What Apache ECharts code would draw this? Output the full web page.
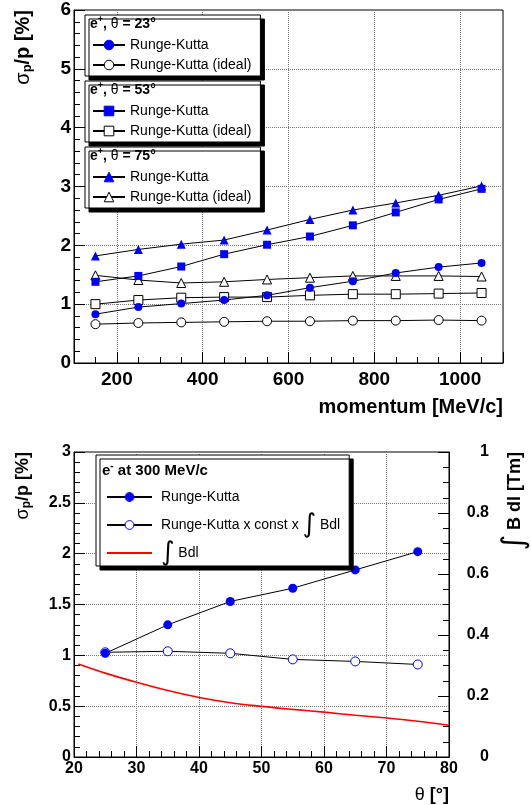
<!DOCTYPE html>
<html><head><meta charset="utf-8">
<script src="https://cdn.jsdelivr.net/npm/echarts@6/dist/echarts.min.js"></script>
<style>html,body{margin:0;padding:0;background:#fff;overflow:hidden}#c{width:531px;height:805px}</style>
</head><body><div id="c"></div>
<script>
// ---------- data: top panel (sigma_p/p vs momentum) ----------
const momentum = [150, 250, 350, 450, 550, 650, 750, 850, 950, 1050];
const rk23      = [0.83, 0.95, 1.01, 1.07, 1.15, 1.28, 1.39, 1.53, 1.63, 1.70];
const rk23Ideal = [0.66, 0.68, 0.69, 0.70, 0.71, 0.71, 0.72, 0.72, 0.73, 0.72];
const rk53      = [1.38, 1.48, 1.64, 1.85, 2.01, 2.15, 2.34, 2.56, 2.78, 2.96];
const rk53Ideal = [1.00, 1.07, 1.11, 1.12, 1.12, 1.15, 1.17, 1.17, 1.18, 1.19];
const rk75      = [1.82, 1.93, 2.02, 2.09, 2.26, 2.44, 2.60, 2.72, 2.85, 3.01];
const rk75Ideal = [1.49, 1.41, 1.36, 1.38, 1.42, 1.45, 1.48, 1.48, 1.48, 1.47];
const topXTickLabels = [200, 400, 600, 800, 1000];

// ---------- data: bottom panel (e- at 300 MeV/c vs theta) ----------
const theta       = [25, 35, 45, 55, 65, 75];
const rkTheta     = [1.02, 1.30, 1.53, 1.66, 1.84, 2.02];
const rkConstBdl  = [1.03, 1.04, 1.02, 0.96, 0.94, 0.91];
const bdlTheta    = [20.7, 25, 30, 35, 40, 45, 50, 55, 60, 65, 70, 75, 80];
const bdlValues   = [0.305, 0.275, 0.245, 0.218, 0.195, 0.178, 0.166, 0.156, 0.147, 0.137, 0.128, 0.117, 0.104];

const legendLabels = {
  rk23: 'Runge-Kutta', rk23i: 'Runge-Kutta (ideal)',
  rk53: 'Runge-Kutta', rk53i: 'Runge-Kutta (ideal)',
  rk75: 'Runge-Kutta', rk75i: 'Runge-Kutta (ideal)',
  rk: ' Runge-Kutta', rkc: ' Runge-Kutta x const x {i|∫} Bdl', bdl: ' {i|∫} Bdl'
};

const FONT = 'Liberation Sans';
const BLUE = '#0000ff';
const pairs = (xs, ys) => xs.map((x, i) => [x, ys[i]]);

function lineSeries(name, xs, ys, symbol, size, filled, xi, yi, edge) {
  return {
    name, type: 'line', xAxisIndex: xi, yAxisIndex: yi, data: pairs(xs, ys),
    symbol, symbolSize: size, showSymbol: true,
    lineStyle: { color: '#000', width: 1 },
    itemStyle: filled ? { color: BLUE, borderColor: BLUE, borderWidth: 0 }
                      : { color: '#fff', borderColor: edge || '#000', borderWidth: 1 },
    emphasis: { disabled: true }, animation: false
  };
}

const axisFont = (size) => ({ fontFamily: FONT, fontWeight: 'bold', fontSize: size, color: '#000' });
const dotted = { show: true, showMinLine: false, showMaxLine: false, lineStyle: { color: '#777', type: 'dotted', width: 1 } };

function topLegend(names, top) {
  return {
    orient: 'vertical', left: 85, top, data: names, selectedMode: false,
    backgroundColor: '#fff', borderColor: '#000', borderWidth: 1,
    shadowColor: '#000', shadowBlur: 0, shadowOffsetX: 4, shadowOffsetY: 4,
    padding: [22, 9, 3, 7], itemGap: 4, itemWidth: 32, itemHeight: 12,
    itemStyle: { borderWidth: 1 },
    textStyle: { fontFamily: FONT, fontSize: 14, color: '#000', lineHeight: 16 },
    formatter: n => legendLabels[n]
  };
}

function header(x, y, sign, rest, size) {
  return {
    type: 'text', x, y, z: 100,
    style: {
      text: '{b|e}{sup|' + sign + '}' + rest,
      fontFamily: FONT, fontWeight: 'bold', fontSize: size, fill: '#000',
      align: 'left', verticalAlign: 'middle',
      rich: {
        b: { fontFamily: FONT, fontWeight: 'bold', fontSize: size, fill: '#000' },
        sup: { fontFamily: FONT, fontWeight: 'bold', fontSize: Math.round(size * 0.65), fill: '#000', padding: [0, 0, 9, 0] },
        t: { fontFamily: FONT, fontWeight: 'normal', fontSize: size, fill: '#000' }
      }
    }
  };
}

const option = {
  backgroundColor: '#fff',
  animation: false,
  grid: [
    { left: 74, right: 28, top: 10, bottom: 442, show: true, borderColor: '#000', borderWidth: 1, containLabel: false, outerBoundsMode: 'none' },
    { left: 74, right: 82, top: 452, bottom: 48, show: true, borderColor: '#000', borderWidth: 1, containLabel: false, outerBoundsMode: 'none' }
  ],
  xAxis: [
    { gridIndex: 0, type: 'value', position: 'bottom', min: 100, max: 1100, splitNumber: 5,
      axisLine: { show: true, onZero: false, lineStyle: { color: '#000', width: 1 } },
      axisTick: { show: true, inside: true, length: 11, lineStyle: { color: '#000' } },
      axisLabel: Object.assign({ margin: 7, formatter: v => topXTickLabels.includes(v) ? String(v) : '' }, axisFont(19)),
      splitLine: dotted },
    { gridIndex: 0, type: 'value', position: 'bottom', min: 100, max: 1100, interval: 50,
      axisLine: { show: false }, axisLabel: { show: false }, splitLine: { show: false },
      axisTick: { show: true, inside: true, length: 6, lineStyle: { color: '#000' } } },
    { gridIndex: 1, type: 'value', position: 'bottom', min: 20, max: 80, interval: 10,
      axisLine: { show: true, onZero: false, lineStyle: { color: '#000', width: 1 } },
      axisTick: { show: true, inside: true, length: 11, lineStyle: { color: '#000' } },
      minorTick: { show: true, splitNumber: 5, length: 6, lineStyle: { color: '#000' } },
      axisLabel: Object.assign({ margin: 4 }, axisFont(16)),
      splitLine: dotted }
  ],
  yAxis: [
    { gridIndex: 0, type: 'value', min: 0, max: 6, interval: 1,
      axisLine: { show: true, onZero: false, lineStyle: { color: '#000', width: 1 } },
      axisTick: { show: true, inside: true, length: 11, lineStyle: { color: '#000' } },
      minorTick: { show: true, splitNumber: 5, length: 6, lineStyle: { color: '#000' } },
      axisLabel: Object.assign({ margin: 3 }, axisFont(19)),
      splitLine: dotted },
    { gridIndex: 1, type: 'value', min: 0, max: 3, interval: 0.5,
      axisLine: { show: true, onZero: false, lineStyle: { color: '#000', width: 1 } },
      axisTick: { show: true, inside: true, length: 11, lineStyle: { color: '#000' } },
      minorTick: { show: true, splitNumber: 5, length: 6, lineStyle: { color: '#000' } },
      axisLabel: Object.assign({ margin: 3 }, axisFont(16)),
      splitLine: dotted },
    { gridIndex: 1, type: 'value', position: 'right', min: 0, max: 1, interval: 0.2,
      axisLine: { show: true, onZero: false, lineStyle: { color: '#000', width: 1 } },
      axisTick: { show: true, inside: true, length: 11, lineStyle: { color: '#000' } },
      minorTick: { show: true, splitNumber: 4, length: 6, lineStyle: { color: '#000' } },
      axisLabel: Object.assign({ margin: 40, align: 'right' }, axisFont(16)),
      splitLine: { show: false } }
  ],
  legend: [
    topLegend(['rk23', 'rk23i'], 15),
    topLegend(['rk53', 'rk53i'], 81),
    topLegend(['rk75', 'rk75i'], 147),
    {
      orient: 'vertical', left: 96, top: 455, data: ['rk', 'rkc', 'bdl'], selectedMode: false,
      backgroundColor: '#fff', borderColor: '#000', borderWidth: 1,
      shadowColor: '#000', shadowBlur: 0, shadowOffsetX: 4, shadowOffsetY: 4,
      padding: [29, 9, 0, 10], itemGap: 2, itemWidth: 45, itemHeight: 11,
      itemStyle: { borderWidth: 1 },
      textStyle: { fontFamily: FONT, fontSize: 14, color: '#000', lineHeight: 26,
        rich: { i: { fontFamily: 'DejaVu Sans', fontSize: 26, lineHeight: 26, color: '#000' } } },
      formatter: n => legendLabels[n]
    }
  ],
  graphic: [
    { type: 'text', x: 23, y: 10, rotation: Math.PI / 2, z: 100,
      style: { text: '{s|σ}{sub|p}/p [%]', fontFamily: FONT, fontWeight: 'bold', fontSize: 20, fill: '#000', align: 'right', verticalAlign: 'middle',
        rich: { s: { fontFamily: FONT, fontWeight: 'normal', fontSize: 20, fill: '#000' },
                sub: { fontFamily: FONT, fontWeight: 'bold', fontSize: 13, fill: '#000', padding: [8, 0, 0, 0] } } } },
    { type: 'text', x: 503, y: 407, z: 100,
      style: { text: 'momentum [MeV/c]', fontFamily: FONT, fontWeight: 'bold', fontSize: 20, fill: '#000', align: 'right', verticalAlign: 'middle' } },
    { type: 'text', x: 23, y: 452, rotation: Math.PI / 2, z: 100,
      style: { text: '{s|σ}{sub|p}/p [%]', fontFamily: FONT, fontWeight: 'bold', fontSize: 18, fill: '#000', align: 'right', verticalAlign: 'middle',
        rich: { s: { fontFamily: FONT, fontWeight: 'normal', fontSize: 18, fill: '#000' },
                sub: { fontFamily: FONT, fontWeight: 'bold', fontSize: 12, fill: '#000', padding: [8, 0, 0, 0] } } } },
    { type: 'text', x: 515, y: 452, rotation: Math.PI / 2, z: 100,
      style: { text: '{i|∫} B dl [Tm]', fontFamily: FONT, fontWeight: 'bold', fontSize: 18, fill: '#000', align: 'right', verticalAlign: 'middle',
        rich: { i: { fontFamily: 'DejaVu Sans', fontWeight: 'normal', fontSize: 30, lineHeight: 18, fill: '#000' } } } },
    { type: 'text', x: 449, y: 795, z: 100,
      style: { text: '{t|θ} [°]', fontFamily: FONT, fontWeight: 'bold', fontSize: 18, fill: '#000', align: 'right', verticalAlign: 'middle',
        rich: { t: { fontFamily: FONT, fontWeight: 'normal', fontSize: 18, fill: '#000' } } } },
    header(90, 24, '+', '{b|, }{t|θ}{b| = 23°}', 14),
    header(90, 90, '+', '{b|, }{t|θ}{b| = 53°}', 14),
    header(90, 156, '+', '{b|, }{t|θ}{b| = 75°}', 14),
    header(102, 471, '-', '{b| at 300 MeV/c}', 15)
  ],
  series: [
    lineSeries('rk23i', momentum, rk23Ideal, 'circle', 9, false, 0, 0),
    lineSeries('rk53i', momentum, rk53Ideal, 'rect', 9, false, 0, 0),
    lineSeries('rk75i', momentum, rk75Ideal, 'triangle', 9, false, 0, 0),
    lineSeries('rk23', momentum, rk23, 'circle', 8, true, 0, 0),
    lineSeries('rk53', momentum, rk53, 'rect', 8, true, 0, 0),
    lineSeries('rk75', momentum, rk75, 'triangle', 9, true, 0, 0),
    lineSeries('rkc', theta, rkConstBdl, 'circle', 9, false, 2, 1, BLUE),
    lineSeries('rk', theta, rkTheta, 'circle', 9, true, 2, 1),
    { name: 'bdl', type: 'line', xAxisIndex: 2, yAxisIndex: 2, data: pairs(bdlTheta, bdlValues),
      symbol: 'none', smooth: 0.4, lineStyle: { color: '#ff0000', width: 1.6 },
      itemStyle: { color: 'rgba(0,0,0,0)', borderWidth: 0 }, emphasis: { disabled: true } }
  ]
};

const chart = echarts.init(document.getElementById('c'), null, { renderer: 'canvas' });
chart.setOption(option);
</script>
</body></html>
